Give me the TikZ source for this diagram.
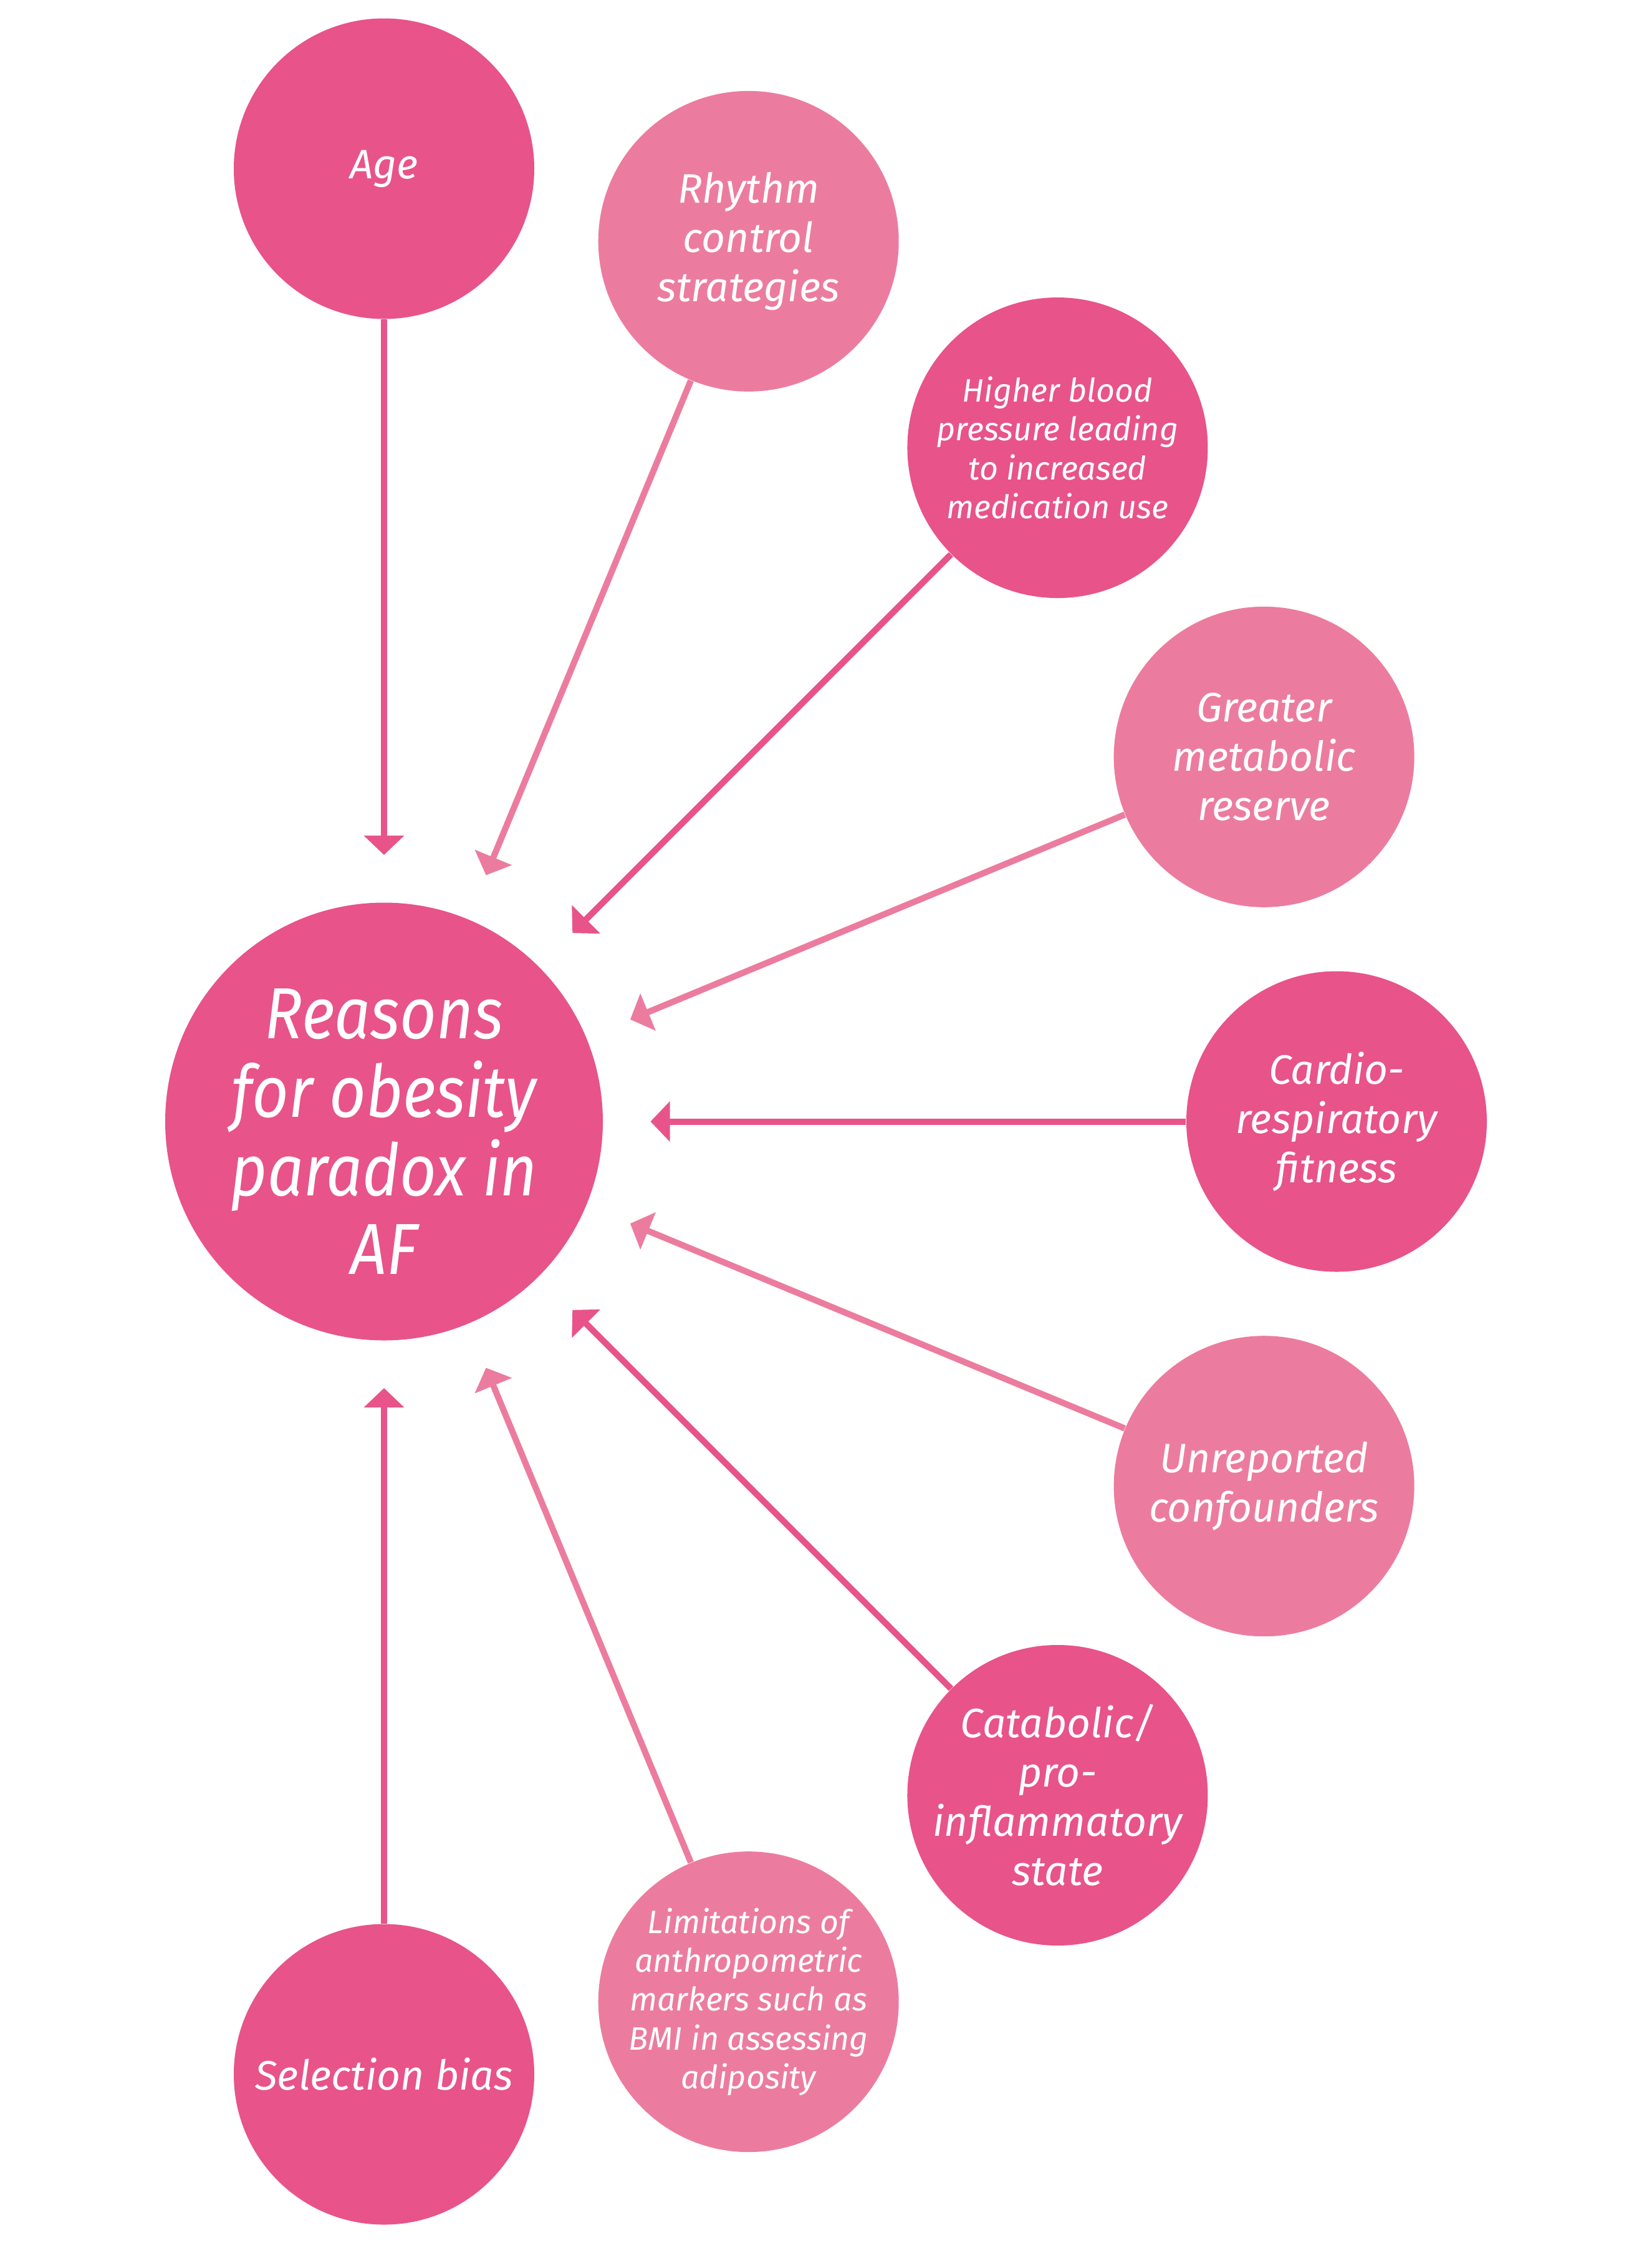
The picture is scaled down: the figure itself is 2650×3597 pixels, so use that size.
\documentclass[tikz,border=0pt]{standalone}
\usepackage{fontspec}
\usetikzlibrary{arrows.meta,calc}
\newfontfamily\lblfont{Fira Sans}
\newfontfamily\hubfont{Fira Sans}[FakeStretch=0.88]
\definecolor{pdark}{HTML}{E8538A}
\definecolor{plight}{HTML}{EC7C9F}
\tikzset{
  bubble/.style={circle,minimum size=120.5pt,inner sep=-30pt,align=center,text=white,
    font=\lblfont\itshape\fontsize{16.5pt}{19.75pt}\selectfont},
  smalltext/.style={font=\lblfont\itshape\fontsize{13pt}{15.6pt}\selectfont},
  dark/.style={fill=pdark},
  light/.style={fill=plight},
  hub/.style={circle,fill=pdark,minimum size=175.5pt,inner sep=0pt},
  hubtext/.style={align=center,text=white,inner sep=0pt,
    font=\hubfont\itshape\fontsize{29pt}{31.5pt}\selectfont},
  arr/.style={line width=2.5pt,-{Triangle[length=7.75pt,width=15.75pt]}},
  arrdark/.style={arr,draw=pdark,fill=pdark},
  arrlight/.style={arr,draw=plight,fill=plight}
}
\begin{document}
\begin{tikzpicture}[x=0.25pt,y=-0.25pt]
\useasboundingbox (0,0) rectangle (2650,3597);
\coordinate (c) at (616,1798.5);
\node[hub] (hub) at (c) {};
\node[hubtext] (hubt) at ($(c)+(0,16)$) {Reasons\\for obesity\\paradox in\\AF};
% sources (y axis points down, so angles are mirrored)
\node[bubble,dark]  (age) at ($(c)+(-90:1528)$) {Age};
\node[bubble,light] (rhy) at ($(c)+(-67.5:1528)$) {Rhythm\\control\\strategies};
\node[bubble,dark,smalltext] (bp) at ($(c)+(-45:1528)$) {Higher blood\\pressure leading\\to increased\\medication use};
\node[bubble,light] (met) at ($(c)+(-22.5:1528)$) {Greater\\metabolic\\reserve};
\node[bubble,dark]  (fit) at ($(c)+(0:1528)$) {Cardio-\\respiratory\\fitness};
\node[bubble,light] (unr) at ($(c)+(22.5:1528)$) {Unreported\\confounders};
\node[bubble,dark]  (cat) at ($(c)+(45:1528)$) {Catabolic/\\pro-\\inflammatory\\state};
\node[bubble,light,smalltext] (lim) at ($(c)+(67.5:1528)$) {Limitations of\\anthropometric\\markers such as\\BMI in assessing\\adiposity};
\node[bubble,dark]  (sel) at ($(c)+(90:1528)$) {Selection bias};
% arrow tips
\coordinate (t1) at ($(c)+(-90:427.5)$);
\coordinate (t2) at ($(c)+(-67.5:427.5)$);
\coordinate (t3) at ($(c)+(-45:427.5)$);
\coordinate (t4) at ($(c)+(-22.5:427.5)$);
\coordinate (t5) at ($(c)+(0:427.5)$);
\coordinate (t6) at ($(c)+(22.5:427.5)$);
\coordinate (t7) at ($(c)+(45:427.5)$);
\coordinate (t8) at ($(c)+(67.5:427.5)$);
\coordinate (t9) at ($(c)+(90:427.5)$);
\draw[arrdark]  (age) -- (t1);
\draw[arrlight] (rhy) -- (t2);
\draw[arrdark]  (bp)  -- (t3);
\draw[arrlight] (met) -- (t4);
\draw[arrdark]  (fit) -- (t5);
\draw[arrlight] (unr) -- (t6);
\draw[arrdark]  (cat) -- (t7);
\draw[arrlight] (lim) -- (t8);
\draw[arrdark]  (sel) -- (t9);
\end{tikzpicture}
\end{document}
